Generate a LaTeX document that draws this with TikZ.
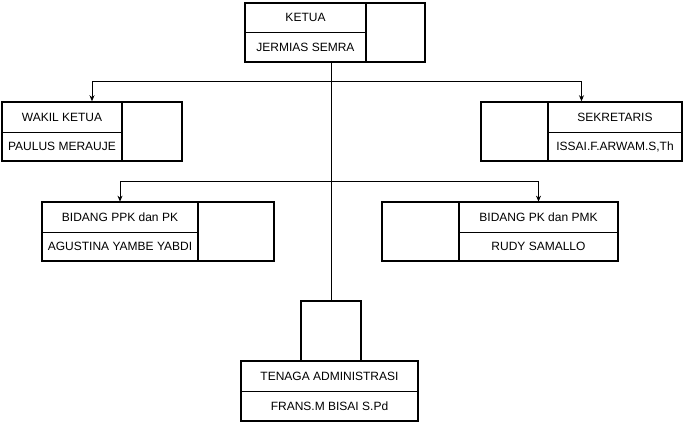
\documentclass[tikz,border=0pt]{standalone}
\usepackage{fontspec}
\setmainfont{Liberation Sans}
\usetikzlibrary{arrows.meta}
\begin{document}
\begin{tikzpicture}[x=1pt,y=-1pt,
  cell/.style={draw, line width=0.7pt, inner sep=0pt, font=\fontsize{12}{14}\selectfont, anchor=center},
  photo/.style={draw, line width=1.5pt, inner sep=0pt, anchor=center},
  frame/.style={draw, line width=1.5pt, inner sep=0pt, anchor=center},
  link/.style={line width=0.8pt},
  arr/.style={line width=0.8pt, -{Stealth[length=6pt,width=5pt]}}]
\useasboundingbox (0,0) rectangle (683,422);
% KETUA
\node[cell, minimum width=121pt, minimum height=29pt] (ketuaT) at (305.5,17.5) {KETUA};
\node[cell, minimum width=121pt, minimum height=30pt] (ketuaB) at (305.5,47) {JERMIAS SEMRA};
\node[photo, minimum width=59pt, minimum height=59pt] (ketuaP) at (395.5,32.5) {};
\node[frame, minimum width=180pt, minimum height=59pt] (ketua) at (335,32.5) {};
% WAKIL
\node[cell, minimum width=120pt, minimum height=30pt] (wakilT) at (62,117) {WAKIL KETUA};
\node[cell, minimum width=120pt, minimum height=29pt] (wakilB) at (62,146.5) {PAULUS MERAUJE};
\node[photo, minimum width=60pt, minimum height=59pt] (wakilP) at (152,131.5) {};
\node[frame, minimum width=180pt, minimum height=59pt] (wakil) at (92,131.5) {};
% SEKRETARIS
\node[cell, minimum width=134pt, minimum height=30pt] (sekT) at (615,117) {SEKRETARIS};
\node[cell, minimum width=134pt, minimum height=29pt] (sekB) at (615,146.5) {ISSAI.F.ARWAM.S,Th};
\node[photo, minimum width=67pt, minimum height=59pt] (sekP) at (514.5,131.5) {};
\node[frame, minimum width=201pt, minimum height=59pt] (sek) at (581.5,131.5) {};
% BIDANG PPK
\node[cell, minimum width=156pt, minimum height=30pt] (ppkT) at (120,217) {BIDANG PPK dan PK};
\node[cell, minimum width=156pt, minimum height=29pt] (ppkB) at (120,246.5) {AGUSTINA YAMBE YABDI};
\node[photo, minimum width=76pt, minimum height=59pt] (ppkP) at (236,231.5) {};
\node[frame, minimum width=232pt, minimum height=59pt] (ppk) at (158,231.5) {};
% BIDANG PK
\node[cell, minimum width=159pt, minimum height=30pt] (pkT) at (538.5,217) {BIDANG PK dan PMK};
\node[cell, minimum width=159pt, minimum height=29pt] (pkB) at (538.5,246.5) {RUDY SAMALLO};
\node[photo, minimum width=77pt, minimum height=59pt] (pkP) at (420.5,231.5) {};
\node[frame, minimum width=236pt, minimum height=59pt] (pk) at (500,231.5) {};
% TENAGA
\node[photo, minimum width=60pt, minimum height=60pt] (tenP) at (331,331) {};
\node[cell, minimum width=177pt, minimum height=30pt] (tenT) at (329.5,376) {TENAGA ADMINISTRASI};
\node[cell, minimum width=177pt, minimum height=30pt] (tenB) at (329.5,406) {FRANS.M BISAI S.Pd};
\node[frame, minimum width=177pt, minimum height=60pt] (ten) at (329.5,391) {};
% connectors
\coordinate (j1) at (331,81);
\coordinate (j2) at (331,181);
\draw[link] (tenP.north |- ketua.south) -- (tenP.north);
\draw[arr] (j1) -| (wakil.north);
\draw[arr] (j1) -| (sek.north);
\draw[arr] (j2) -| (ppkT.north);
\draw[arr] (j2) -| (pkT.north);
\end{tikzpicture}
\end{document}
